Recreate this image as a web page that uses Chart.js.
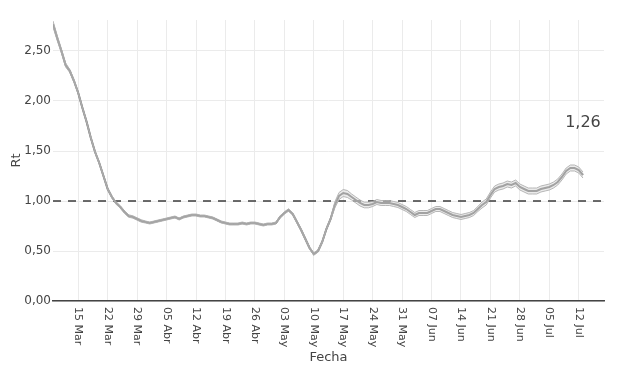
<!DOCTYPE html>
<html><head><meta charset="utf-8">
<script src="https://cdn.jsdelivr.net/npm/chart.js@4/dist/chart.umd.min.js"></script>
<style>html,body{margin:0;padding:0;background:#fff;}#wrap{width:620px;height:368px;}</style>
</head><body><div id="wrap"><canvas id="c" width="620" height="368"></canvas></div>
<script>
// days counted from 15 Mar (day 0); series starts 09 Mar
const firstDay = -6;
const rt = [
  2.77,2.63,2.50,2.36,2.30,2.20,
  2.08,1.93,1.79,1.63,1.49,1.38,1.25,1.12,1.04,0.98,0.94,0.89,0.85,0.84,0.82,0.80,
  0.79,0.78,0.79,0.80,0.81,0.82,0.83,0.84,0.82,0.84,0.85,0.86,0.86,0.85,0.85,0.84,
  0.83,0.81,0.79,0.78,0.77,0.77,0.77,0.78,0.77,0.78,0.78,0.77,0.76,0.77,0.77,0.78,
  0.84,0.88,0.91,0.87,0.79,0.71,0.62,0.53,0.47,0.50,0.59,0.72,0.82,
  0.96,1.05,1.08,1.07,1.04,1.01,0.98,0.96,0.96,
  0.97,0.99,0.98,0.98,0.98,0.97,0.96,0.94,0.92,0.89,0.86,0.88,0.88,0.88,0.90,0.92,
  0.92,0.90,0.88,0.86,0.85,0.84,0.85,0.86,0.88,0.92,
  0.96,0.99,1.06,1.12,1.14,1.15,1.17,1.16,1.18,1.14,1.12,1.10,1.10,1.10,1.12,1.13,
  1.14,1.16,1.19,1.24,1.30,1.33,1.33,1.31,1.26
];
const rtHalfWidth = [
  0.030,0.025,0.020,0.020,0.015,0.015,
  0.012,0.012,0.012,0.012,0.012,0.012,0.012,0.012,0.012,0.012,0.012,0.012,0.012,0.012,0.012,0.012,
  0.010,0.010,0.010,0.010,0.010,0.010,0.010,0.010,0.010,0.010,0.010,0.010,0.010,0.010,0.010,0.010,
  0.010,0.010,0.010,0.010,0.010,0.010,0.010,0.010,0.010,0.010,0.010,0.010,0.010,0.010,0.010,0.010,
  0.012,0.012,0.012,0.012,0.012,0.012,0.012,0.012,0.012,0.012,0.012,0.012,0.012,
  0.030,0.035,0.035,0.035,0.030,0.030,0.030,0.028,0.028,
  0.025,0.025,0.025,0.025,0.025,0.025,0.025,0.025,0.025,0.025,0.025,0.025,0.025,0.025,0.025,0.025,
  0.025,0.025,0.025,0.025,0.025,0.025,0.025,0.025,0.025,0.025,
  0.030,0.030,0.030,0.030,0.030,0.030,0.030,0.030,0.030,0.030,0.030,0.030,0.030,0.030,0.030,0.030,
  0.030,0.030,0.030,0.030,0.030,0.030,0.030,0.030,0.030
];
const xTickDays = [0,7,14,21,28,35,42,49,56,63,70,77,84,91,98,105,112,119];
const xTickLabels = ['15 Mar','22 Mar','29 Mar','05 Abr','12 Abr','19 Abr','26 Abr','03 May','10 May','17 May','24 May','31 May','07 Jun','14 Jun','21 Jun','28 Jun','05 Jul','12 Jul'];
const yTicks = [0,0.5,1,1.5,2,2.5];
const refValue = 1;
const lastLabel = '1,26';

const FONT = 'DejaVu Sans';
const pts = arr => arr.map((v,i)=>({x:firstDay+i,y:v}));
const lower = pts(rt.map((v,i)=>v-rtHalfWidth[i]));
const upper = pts(rt.map((v,i)=>v+rtHalfWidth[i]));
const mean = pts(rt);
const xMin = -6, xMax = 125;

const labelPlugin = {
  id:'labels',
  afterDraw(chart){
    const ctx = chart.ctx, xs = chart.scales.x, ys = chart.scales.y, ca = chart.chartArea;
    ctx.save();
    ctx.fillStyle = '#444';
    ctx.font = '11px "' + FONT + '"';
    xTickDays.forEach((d,i)=>{
      const px = xs.getPixelForValue(d);
      ctx.save();
      ctx.translate(px, ca.bottom + 6);
      ctx.rotate(Math.PI/2);
      ctx.textAlign = 'left';
      ctx.textBaseline = 'middle';
      ctx.fillText(xTickLabels[i], 0, 0);
      ctx.restore();
    });
    ctx.font = '16px "' + FONT + '"';
    ctx.textAlign = 'center';
    ctx.textBaseline = 'middle';
    ctx.fillText(lastLabel, xs.getPixelForValue(firstDay + rt.length - 1), ys.getPixelForValue(1.78));
    ctx.restore();
  }
};

new Chart(document.getElementById('c'), {
  type:'line',
  data:{datasets:[
    {data:lower, borderColor:'rgba(175,175,175,0.9)', borderWidth:1, pointRadius:0, fill:false, tension:0},
    {data:upper, borderColor:'rgba(175,175,175,0.9)', borderWidth:1, pointRadius:0, fill:'-1', backgroundColor:'rgba(215,215,215,0.5)', tension:0},
    {data:mean, borderColor:'#6c6c6c', borderWidth:2, pointRadius:0, fill:false, tension:0},
    {data:[{x:xMin,y:refValue},{x:xMax,y:refValue}], borderColor:'#3c3c3c', borderWidth:1.6, borderDash:[8,7], pointRadius:0, fill:false}
  ]},
  options:{
    responsive:false, animation:false, devicePixelRatio:1,
    layout:{padding:{top:20,right:16,left:0,bottom:0}},
    plugins:{legend:{display:false}, tooltip:{enabled:false}},
    scales:{
      x:{type:'linear', min:xMin, max:xMax,
        afterBuildTicks:s=>{s.ticks = xTickDays.map(v=>({value:v}));},
        afterFit:s=>{s.height = 67;},
        ticks:{display:false},
        grid:{color:'#ebebeb', drawTicks:false},
        border:{display:true, color:'#444', width:1.5},
        title:{display:true, text:'Fecha', color:'#444', font:{family:FONT,size:13}, padding:{top:0,bottom:3}}
      },
      y:{type:'linear', min:0, max:2.81,
        afterBuildTicks:s=>{s.ticks = yTicks.map(v=>({value:v}));},
        afterFit:s=>{s.width = 53;},
        ticks:{color:'#444', font:{family:FONT,size:12}, padding:2, callback:v=>v.toFixed(2).replace('.',',')},
        grid:{color:'#ebebeb', drawTicks:false},
        border:{display:false},
        title:{display:true, text:'Rt', color:'#444', font:{family:FONT,size:13}, padding:{top:9,bottom:0}}
      }
    }
  },
  plugins:[labelPlugin]
});
</script></body></html>
